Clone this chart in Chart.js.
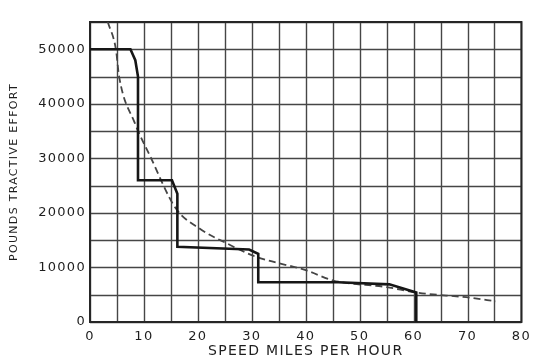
<!DOCTYPE html>
<html>
<head>
<meta charset="utf-8">
<script src="https://cdn.jsdelivr.net/npm/chart.js@4/dist/chart.umd.min.js"></script>
<style>
  html, body { margin: 0; padding: 0; background: #ffffff; }
  #wrap { width: 538px; height: 363px; position: relative; }
</style>
</head>
<body>
<div id="wrap"><canvas id="c"></canvas></div>
<script>
// Stepped tractive-effort line (solid)
const solidSpeed  = [0, 7.5, 8.4, 8.9, 8.9, 15.2, 16.2, 16.2, 29.5, 31.2, 31.2, 46, 55.5, 60.5, 60.5];
const solidEffort = [50000, 50000, 48000, 45000, 26000, 26000, 23500, 13800, 13300, 12500, 7300, 7300, 6900, 5400, 0];

// Smooth curve (dashed)
const dashedSpeed  = [3.3, 4.8, 5.4, 8.3, 11.2, 15.8, 20.5, 25.4, 30.4, 40.3, 45.1, 55, 60.5, 70.5, 75.2];
const dashedEffort = [55000, 50000, 45000, 36500, 30300, 21000, 17000, 14400, 12100, 9400, 7600, 6400, 5400, 4450, 3800];

// Tick labels
const xTickValues = [0, 10, 20, 30, 40, 50, 60, 70, 80];
const xTickLabels = ['0', '10', '20', '30', '40', '50', '60', '70', '80'];
const yTickValues = [0, 10000, 20000, 30000, 40000, 50000];
const yTickLabels = ['0', '10000', '20000', '30000', '40000', '50000'];

const xTitle = 'SPEED MILES PER HOUR';
const yTitle = 'POUNDS TRACTIVE EFFORT';

const toPoints = (xs, ys) => xs.map((x, i) => ({ x: x, y: ys[i] }));

const spacingPlugin = {
  id: 'spacing',
  beforeUpdate(c) { c.ctx.letterSpacing = '1.3px'; },
  beforeDraw(c) { c.ctx.letterSpacing = '1.3px'; }
};

const gridCol = '#464646';
const frameCol = '#262626';
const ink = '#1e1e1e';

// graph-paper grid drawn at the scales' own tick positions
const gridPlugin = {
  id: 'paperGrid',
  beforeDatasetsDraw(c) {
    const a = c.chartArea, ctx = c.ctx;
    const xs = c.scales.x, ys = c.scales.y;
    ctx.save();
    ctx.strokeStyle = gridCol;
    ctx.lineWidth = 1.4;
    ctx.beginPath();
    xs.ticks.forEach(t => {
      const px = Math.round(xs.getPixelForValue(t.value)) + 0.5;
      ctx.moveTo(px, a.top);
      ctx.lineTo(px, a.bottom);
    });
    ys.ticks.forEach(t => {
      const py = Math.round(ys.getPixelForValue(t.value)) + 0.5;
      ctx.moveTo(a.left, py);
      ctx.lineTo(a.right, py);
    });
    ctx.stroke();
    ctx.strokeStyle = frameCol;
    ctx.lineWidth = 2;
    ctx.strokeRect(a.left, a.top, a.right - a.left, a.bottom - a.top);
    ctx.restore();
  }
};

new Chart(document.getElementById('c'), {
  type: 'line',
  data: {
    datasets: [
      {
        label: 'Tractive effort',
        data: toPoints(solidSpeed, solidEffort),
        borderColor: '#161616',
        borderWidth: 2.6,
        pointRadius: 0,
        tension: 0,
        fill: false
      },
      {
        label: 'Curve',
        data: toPoints(dashedSpeed, dashedEffort),
        borderColor: '#454545',
        borderWidth: 1.8,
        borderDash: [7, 4],
        pointRadius: 0,
        cubicInterpolationMode: 'monotone',
        fill: false
      }
    ]
  },
  options: {
    responsive: true,
    maintainAspectRatio: false,
    animation: false,
    layout: { padding: { top: 22, right: 8, left: 0, bottom: 0 } },
    plugins: {
      legend: { display: false },
      tooltip: { enabled: false }
    },
    scales: {
      x: {
        type: 'linear',
        min: 0, max: 80,
        afterFit: function (s) { s.height = 41; },
        ticks: {
          stepSize: 5,
          autoSkip: false,
          maxRotation: 0,
          padding: 7,
          color: ink,
          font: { family: 'DejaVu Sans', size: 13 },
          callback: function (v) {
            const i = xTickValues.indexOf(v);
            return i >= 0 ? xTickLabels[i] : '';
          }
        },
        grid: { display: false, drawTicks: false },
        border: { display: true, color: frameCol, width: 2 },
        title: {
          display: true,
          text: xTitle,
          color: ink,
          font: { family: 'DejaVu Sans', size: 14 },
          padding: { top: 0, bottom: 3 }
        }
      },
      y: {
        type: 'linear',
        min: 0, max: 55000,
        afterFit: function (s) { s.width = 90; },
        ticks: {
          stepSize: 5000,
          autoSkip: false,
          padding: 4,
          color: ink,
          font: { family: 'DejaVu Sans', size: 13 },
          callback: function (v) {
            const i = yTickValues.indexOf(v);
            return i >= 0 ? yTickLabels[i] : '';
          }
        },
        grid: { display: false, drawTicks: false },
        border: { display: true, color: frameCol, width: 2 },
        title: {
          display: true,
          text: yTitle,
          color: ink,
          font: { family: 'DejaVu Sans', size: 11 },
          padding: { top: 8, bottom: 10 }
        }
      }
    }
  },
  plugins: [spacingPlugin, gridPlugin]
});
</script>
</body>
</html>
